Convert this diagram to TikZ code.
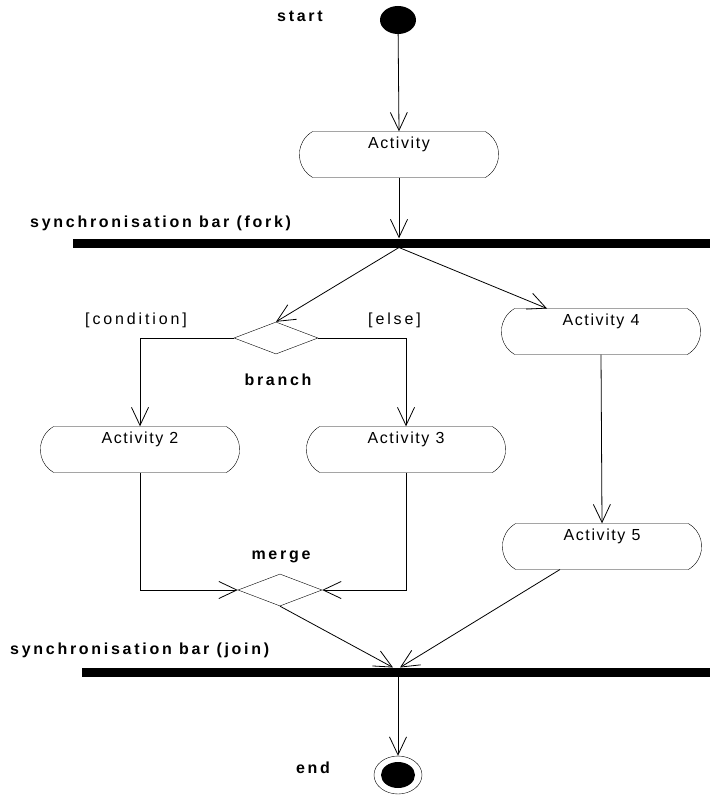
\documentclass[tikz,border=0pt]{standalone}
\usepackage{fontspec}
\setmainfont{Liberation Sans}
\usetikzlibrary{arrows.meta,shapes.misc,shapes.geometric}
\begin{document}
\begin{tikzpicture}[x=1pt, y=-1pt,
  flow/.style={-{Straight Barb[length=18pt, width=17pt]}, line width=0.8pt},
  activity/.style={draw, rounded rectangle, rounded rectangle arc length=120,
    minimum width=206pt, minimum height=46pt, text height=12pt, text depth=25pt,
    font=\fontsize{16}{18}\selectfont\addfontfeatures{LetterSpace=10}},
  decision/.style={draw, diamond, inner sep=0pt, minimum width=84pt, minimum height=32pt},
  bar/.style={fill=black, inner sep=0pt, minimum height=9pt},
  tag/.style={font=\fontsize{16}{18}\selectfont\bfseries\addfontfeatures{LetterSpace=17}},
  guard/.style={font=\fontsize{16}{18}\selectfont\addfontfeatures{LetterSpace=18}}]
\useasboundingbox (0, 0) rectangle (710, 797);

% start and end
\node (start) [fill=black, ellipse, minimum width=36pt, minimum height=28pt, inner sep=0pt] at (398, 20) {};
\node (endout) [draw, ellipse, minimum width=48pt, minimum height=38pt, inner sep=0pt] at (398, 775) {};
\node (endin) [fill=black, ellipse, minimum width=34pt, minimum height=26pt, inner sep=0pt] at (398, 775) {};

% bars
\node (fork) [bar, minimum width=637pt] at (391.5, 243) {};
\node (join) [bar, minimum width=628pt] at (396, 672) {};

% activities
\node (act) [activity] at (399, 154.5) {Activity};
\node (act2) [activity] at (140, 449.5) {Activity 2};
\node (act3) [activity] at (406, 449.5) {Activity 3};
\node (act4) [activity] at (601, 331.5) {Activity 4};
\node (act5) [activity] at (602, 546.5) {Activity 5};

% branch and merge
\node (branch) [decision] at (276, 338) {};
\node (merge) [decision] at (280, 590) {};

% labels
\node (startlbl) [tag] at (300, 16) {start};
\node (forklbl) [tag, anchor=west, inner sep=0pt] at (30, 223) {synchronisation bar (fork)};
\node (cond) [guard, anchor=west, inner sep=0pt] at (85, 320) {[condition]};
\node (else) [guard, anchor=west, inner sep=0pt] at (368, 320) {[else]};
\node (branchlbl) [tag] at (278, 380) {branch};
\node (mergelbl) [tag] at (281, 557) {merge};
\node (joinlbl) [tag, anchor=west, inner sep=0pt] at (10, 650) {synchronisation bar (join)};
\node (endlbl) [tag] at (313, 768) {end};

\coordinate (forkout) at (399, 247.5);
\coordinate (act4in) at (547, 308.5);
\coordinate (act5out) at (560, 569.5);
\coordinate (j1) at (393, 667.5);
\coordinate (j2) at (400, 667.5);

% flows
\draw[flow] (start) -- (act.north);
\draw[flow] (act.south) -- (act.south |- fork.north);
\draw[flow] (forkout) -- (branch.north);
\draw[flow] (forkout) -- (act4in);
\draw[flow] (branch.west) -| (act2.north);
\draw[flow] (branch.east) -| (act3.north);
\draw[flow] (act4.south) -- (act5.north);
\draw[flow] (act2.south) |- (merge.west);
\draw[flow] (act3.south) |- (merge.east);
\draw[flow] (merge.south) -- (j1);
\draw[flow] (act5out) -- (j2);
\draw[flow] (join.south -| endout.north) -- (endout.north);
\end{tikzpicture}
\end{document}
